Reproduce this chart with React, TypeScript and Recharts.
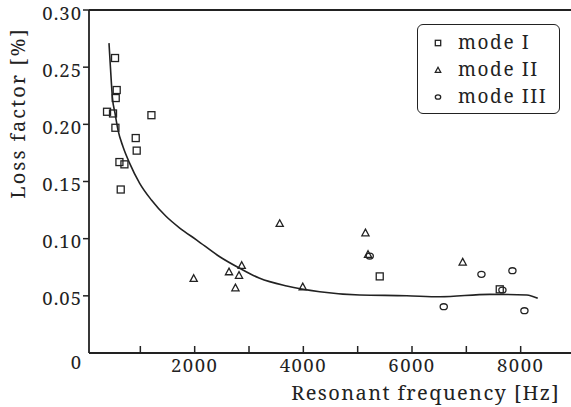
import React from 'react';
import { ComposedChart, Scatter, Line, XAxis, YAxis, ReferenceLine, Legend } from 'recharts';

// #region Measured points (frequency in Hz, loss factor in %)
const modeIFreq = [534, 565, 547, 387, 497, 541, 1204, 915, 933, 615, 707, 639, 5406, 7615];
const modeILoss = [0.258, 0.230, 0.223, 0.211, 0.2095, 0.197, 0.208, 0.188, 0.177, 0.167, 0.165, 0.143, 0.067, 0.0557];

const modeIIFreq = [1982, 2632, 2816, 2866, 2750, 3565, 3989, 5143, 5191, 6933];
const modeIILoss = [0.0653, 0.0711, 0.068, 0.0767, 0.0571, 0.1134, 0.058, 0.1052, 0.0863, 0.0796];

const modeIIIFreq = [5222, 7278, 7848, 6584, 7664, 8069];
const modeIIILoss = [0.0848, 0.0688, 0.072, 0.0405, 0.0551, 0.037];

// fitted trend line
const fitFreq = [423, 449, 486, 534, 589, 681, 804, 988, 1204, 1467, 1725, 2038, 2461, 2829, 3197, 3694, 4302, 5038, 5903, 6511, 7431, 8112, 8314];
const fitLoss = [0.271, 0.2504, 0.2233, 0.2097, 0.195, 0.1804, 0.1659, 0.1484, 0.1338, 0.1198, 0.1093, 0.0988, 0.0842, 0.0741, 0.0653, 0.0586, 0.0536, 0.0507, 0.0501, 0.0492, 0.0513, 0.0507, 0.0478];

const xTicks = [1000, 2000, 3000, 4000, 5000, 6000, 7000, 8000];
const xLabelTicks = [2000, 4000, 6000, 8000];
const yTicks = [0, 0.05, 0.1, 0.15, 0.2, 0.25, 0.3];
// #endregion

const zip = (f: number[], v: number[]) => f.map((x, i) => ({ f: x, v: v[i] }));

const modeI = zip(modeIFreq, modeILoss);
const modeII = zip(modeIIFreq, modeIILoss);
const modeIII = zip(modeIIIFreq, modeIIILoss);
const fit = zip(fitFreq, fitLoss);

const INK = '#222';
const FONT = "'Noto Serif', serif";

const Square = ({ cx, cy, s = 3.5 }: any) => (
  <rect x={cx - s} y={cy - s} width={s * 2} height={s * 2} fill="none" stroke={INK} strokeWidth={1.3} />
);
const Triangle = ({ cx, cy, s = 3.6 }: any) => (
  <path d={`M${cx},${cy - s}L${cx + s},${cy + s * 0.85}L${cx - s},${cy + s * 0.85}Z`} fill="none" stroke={INK} strokeWidth={1.3} />
);
const Ellipse = ({ cx, cy, s = 3.6 }: any) => (
  <ellipse cx={cx} cy={cy} rx={s} ry={s * 0.82} fill="none" stroke={INK} strokeWidth={1.3} />
);

const YTick = ({ x, y, payload }: any) => {
  const v = payload.value;
  return (
    <g>
      {v !== 0 && <line x1={x + 1} y1={y} x2={x + 7} y2={y} stroke={INK} strokeWidth={1.5} />}
      <text x={x} y={v === 0 ? y + 9 : y + 3} dy="0.355em" textAnchor="end" style={{ fontFamily: FONT }} fontSize={18.5} letterSpacing={1} fill={INK}>
        {v === 0 ? '0' : v.toFixed(2)}
      </text>
    </g>
  );
};

const XTick = ({ x, y, payload }: any) => {
  const v = payload.value;
  return (
    <g>
      <line x1={x} y1={y - 6} x2={x} y2={y - 13} stroke={INK} strokeWidth={1.5} />
      {xLabelTicks.includes(v) && (
        <text x={x} y={y} dy="0.71em" textAnchor="middle" style={{ fontFamily: FONT }} fontSize={18.5} letterSpacing={1.5} fill={INK}>
          {v}
        </text>
      )}
    </g>
  );
};

const XTitle = ({ viewBox }: any) => (
  <text x={viewBox.x + viewBox.width - 15} y={viewBox.y + 47} textAnchor="end" style={{ fontFamily: FONT }} fontSize={20} letterSpacing={1.4} fill={INK}>
    Resonant frequency [Hz]
  </text>
);

const YTitle = ({ viewBox }: any) => {
  const cx = viewBox.x + 18;
  const cy = viewBox.y + 103;
  return (
    <text x={cx} y={cy} transform={`rotate(-90, ${cx}, ${cy})`} textAnchor="middle" dy="0.35em" style={{ fontFamily: FONT }} fontSize={20} letterSpacing={2} fill={INK}>
      Loss factor [%]
    </text>
  );
};

const legendItems = [
  { name: 'mode I', Mark: Square },
  { name: 'mode II', Mark: Triangle },
  { name: 'mode III', Mark: Ellipse },
];

const renderLegend = () => (
  <div
    style={{
      border: `1px solid ${INK}`,
      borderRadius: 6,
      width: 141,
      height: 84,
      boxSizing: 'content-box',
      padding: '4px 0 0 0',
      fontFamily: FONT,
      fontSize: 19,
      letterSpacing: 1.6,
      color: INK,
    }}
  >
    {legendItems.map(({ name, Mark }) => (
      <div key={name} style={{ display: 'flex', alignItems: 'center', height: 26.7 }}>
        <svg width={40} height={26} style={{ flex: 'none' }}>
          <Mark cx={20} cy={14} s={2.7} />
        </svg>
        <span style={{ whiteSpace: 'pre' }}>{name}</span>
      </div>
    ))}
  </div>
);

const LossFactorChart = () => {
  return (
    <div style={{ position: 'absolute', left: 0, top: 0, width: 571, height: 407, overflow: 'hidden', background: '#fff' }}>
      <ComposedChart width={580} height={407} margin={{ top: 10, right: 5, left: 0, bottom: 0 }}>
        <XAxis
          type="number"
          dataKey="f"
          domain={[55, 9000]}
          ticks={xTicks}
          allowDataOverflow
          height={54}
          tickSize={0}
          tickMargin={6}
          tickLine={false}
          tick={<XTick />}
          axisLine={{ stroke: INK, strokeWidth: 1.8 }}
          label={<XTitle />}
        />
        <YAxis
          type="number"
          dataKey="v"
          domain={[0, 0.3]}
          ticks={yTicks}
          width={89}
          tickSize={0}
          tickMargin={7}
          tickLine={false}
          tick={<YTick />}
          axisLine={{ stroke: INK, strokeWidth: 1.8 }}
          label={<YTitle />}
        />
        <ReferenceLine y={0.3} stroke={INK} strokeWidth={1.8} />
        <Line data={fit} dataKey="v" type="monotone" stroke={INK} strokeWidth={1.6} dot={false} legendType="none" isAnimationActive={false} />
        <Scatter name="mode I" data={modeI} dataKey="v" shape={<Square />} isAnimationActive={false} />
        <Scatter name="mode II" data={modeII} dataKey="v" shape={<Triangle />} isAnimationActive={false} />
        <Scatter name="mode III" data={modeIII} dataKey="v" shape={<Ellipse />} isAnimationActive={false} />
        <Legend
          layout="vertical"
          align="center"
          verticalAlign="middle"
          content={renderLegend}
          wrapperStyle={{ left: 417, top: 24, width: 'auto', right: 'auto', bottom: 'auto' }}
        />
      </ComposedChart>
    </div>
  );
};

export default LossFactorChart;
